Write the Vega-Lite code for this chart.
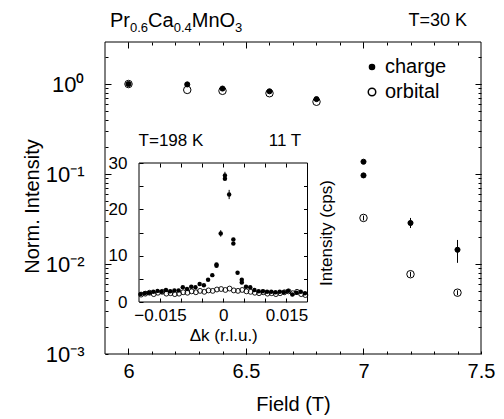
{
  "$schema": "https://vega.github.io/schema/vega-lite/v6.json",
  "width": 376,
  "height": 312,
  "autosize": "none",
  "padding": {"left": 105, "top": 42, "right": 23, "bottom": 65},
  "background": "white",
  "config": {
    "font": "Liberation Sans",
    "view": {"stroke": null},
    "axis": {
      "domain": false,
      "grid": false,
      "tickColor": "black",
      "tickWidth": 1,
      "labelColor": "black",
      "titleColor": "black",
      "titleFontWeight": "normal",
      "labelFlush": false,
      "labelOverlap": false
    },
    "text": {"font": "Liberation Sans", "color": "black"}
  },
  "datasets": {
    "field": [
      {"field": 6.0, "kind": "orbital", "norm": 1.0},
      {"field": 6.0, "kind": "charge", "norm": 1.0},
      {"field": 6.25, "kind": "orbital", "norm": 0.86},
      {"field": 6.25, "kind": "charge", "norm": 0.99},
      {"field": 6.4, "kind": "orbital", "norm": 0.84},
      {"field": 6.4, "kind": "charge", "norm": 0.89},
      {"field": 6.6, "kind": "orbital", "norm": 0.79},
      {"field": 6.6, "kind": "charge", "norm": 0.83},
      {"field": 6.8, "kind": "orbital", "norm": 0.635},
      {"field": 6.8, "kind": "charge", "norm": 0.68},
      {"field": 7.0, "kind": "orbital", "norm": 0.0325, "lo": 0.0305, "hi": 0.0345},
      {"field": 7.0, "kind": "charge", "norm": 0.137},
      {"field": 7.0, "kind": "charge", "norm": 0.0965},
      {"field": 7.2, "kind": "orbital", "norm": 0.0077, "lo": 0.0072, "hi": 0.0082},
      {"field": 7.2, "kind": "charge", "norm": 0.0286, "lo": 0.0251, "hi": 0.0325},
      {"field": 7.4, "kind": "orbital", "norm": 0.0048, "lo": 0.0045, "hi": 0.0051},
      {"field": 7.4, "kind": "charge", "norm": 0.0144, "lo": 0.0103, "hi": 0.0185}
    ],
    "scan": [
      {"dk": -0.0196, "kind": "charge", "cps": 1.7},
      {"dk": -0.0186, "kind": "charge", "cps": 1.9},
      {"dk": -0.0176, "kind": "charge", "cps": 2.0},
      {"dk": -0.0166, "kind": "charge", "cps": 2.2},
      {"dk": -0.0156, "kind": "charge", "cps": 2.4},
      {"dk": -0.0146, "kind": "charge", "cps": 2.2},
      {"dk": -0.0136, "kind": "charge", "cps": 2.6},
      {"dk": -0.0126, "kind": "charge", "cps": 2.3},
      {"dk": -0.0116, "kind": "charge", "cps": 2.5},
      {"dk": -0.0106, "kind": "charge", "cps": 2.5},
      {"dk": -0.0096, "kind": "charge", "cps": 3.2},
      {"dk": -0.0086, "kind": "charge", "cps": 2.8},
      {"dk": -0.0076, "kind": "charge", "cps": 3.3},
      {"dk": -0.0066, "kind": "charge", "cps": 3.2},
      {"dk": -0.0056, "kind": "charge", "cps": 3.9},
      {"dk": -0.0046, "kind": "charge", "cps": 3.6},
      {"dk": -0.0036, "kind": "charge", "cps": 4.8},
      {"dk": -0.0026, "kind": "charge", "cps": 5.8},
      {"dk": -0.0016, "kind": "charge", "cps": 8.1},
      {"dk": -0.0016, "kind": "charge", "cps": 7.8},
      {"dk": -0.0006, "kind": "charge", "cps": 14.8, "lo": 14.1, "hi": 15.5},
      {"dk": 0.0004, "kind": "charge", "cps": 27.3, "lo": 26.3, "hi": 28.1},
      {"dk": 0.0004, "kind": "charge", "cps": 26.6},
      {"dk": 0.0014, "kind": "charge", "cps": 23.2, "lo": 22.2, "hi": 24.2},
      {"dk": 0.0024, "kind": "charge", "cps": 13.5},
      {"dk": 0.0024, "kind": "charge", "cps": 12.6},
      {"dk": 0.0034, "kind": "charge", "cps": 6.3},
      {"dk": 0.0044, "kind": "charge", "cps": 4.8},
      {"dk": 0.0044, "kind": "charge", "cps": 4.2},
      {"dk": 0.0054, "kind": "charge", "cps": 3.3},
      {"dk": 0.0064, "kind": "charge", "cps": 3.2},
      {"dk": 0.0074, "kind": "charge", "cps": 2.6},
      {"dk": 0.0084, "kind": "charge", "cps": 2.3},
      {"dk": 0.0094, "kind": "charge", "cps": 2.3},
      {"dk": 0.0104, "kind": "charge", "cps": 2.2},
      {"dk": 0.0114, "kind": "charge", "cps": 2.2},
      {"dk": 0.0124, "kind": "charge", "cps": 2.1},
      {"dk": 0.0134, "kind": "charge", "cps": 2.2},
      {"dk": 0.0144, "kind": "charge", "cps": 2.1},
      {"dk": 0.0154, "kind": "charge", "cps": 2.4},
      {"dk": 0.0164, "kind": "charge", "cps": 1.6},
      {"dk": 0.0174, "kind": "charge", "cps": 2.0},
      {"dk": 0.0184, "kind": "charge", "cps": 2.2},
      {"dk": 0.0194, "kind": "charge", "cps": 1.9},
      {"dk": -0.0195, "kind": "orbital", "cps": 1.6},
      {"dk": -0.0185, "kind": "orbital", "cps": 1.8},
      {"dk": -0.0175, "kind": "orbital", "cps": 2.0},
      {"dk": -0.0165, "kind": "orbital", "cps": 1.7},
      {"dk": -0.0155, "kind": "orbital", "cps": 2.0},
      {"dk": -0.0145, "kind": "orbital", "cps": 2.2},
      {"dk": -0.0135, "kind": "orbital", "cps": 1.8},
      {"dk": -0.0125, "kind": "orbital", "cps": 1.9},
      {"dk": -0.0115, "kind": "orbital", "cps": 1.7},
      {"dk": -0.0105, "kind": "orbital", "cps": 1.8},
      {"dk": -0.0095, "kind": "orbital", "cps": 2.1},
      {"dk": -0.0085, "kind": "orbital", "cps": 2.0},
      {"dk": -0.0075, "kind": "orbital", "cps": 2.3},
      {"dk": -0.0065, "kind": "orbital", "cps": 2.1},
      {"dk": -0.0055, "kind": "orbital", "cps": 2.4},
      {"dk": -0.0045, "kind": "orbital", "cps": 2.2},
      {"dk": -0.0035, "kind": "orbital", "cps": 2.5},
      {"dk": -0.0025, "kind": "orbital", "cps": 2.4},
      {"dk": -0.0015, "kind": "orbital", "cps": 2.7},
      {"dk": -0.0005, "kind": "orbital", "cps": 2.8},
      {"dk": 0.0005, "kind": "orbital", "cps": 2.6},
      {"dk": 0.0015, "kind": "orbital", "cps": 2.9},
      {"dk": 0.0025, "kind": "orbital", "cps": 2.5},
      {"dk": 0.0035, "kind": "orbital", "cps": 2.4},
      {"dk": 0.0045, "kind": "orbital", "cps": 2.6},
      {"dk": 0.0055, "kind": "orbital", "cps": 2.3},
      {"dk": 0.0065, "kind": "orbital", "cps": 2.2},
      {"dk": 0.0075, "kind": "orbital", "cps": 2.0},
      {"dk": 0.0085, "kind": "orbital", "cps": 1.9},
      {"dk": 0.0095, "kind": "orbital", "cps": 2.1},
      {"dk": 0.0105, "kind": "orbital", "cps": 1.8},
      {"dk": 0.0115, "kind": "orbital", "cps": 1.9},
      {"dk": 0.0125, "kind": "orbital", "cps": 1.7},
      {"dk": 0.0135, "kind": "orbital", "cps": 1.9},
      {"dk": 0.0145, "kind": "orbital", "cps": 2.1},
      {"dk": 0.0155, "kind": "orbital", "cps": 2.3},
      {"dk": 0.0165, "kind": "orbital", "cps": 1.9},
      {"dk": 0.0175, "kind": "orbital", "cps": 2.2},
      {"dk": 0.0185, "kind": "orbital", "cps": 1.7},
      {"dk": 0.0195, "kind": "orbital", "cps": 1.5}
    ]
  },
  "layer": [
    {
      "data": {"values": [{}]},
      "mark": {"type": "rect", "filled": false, "stroke": "black", "strokeWidth": 1},
      "encoding": {
        "x": {"datum": 5.9, "scale": {"domain": [5.9, 7.5], "nice": false, "zero": false}, "axis": null},
        "x2": {"datum": 7.5},
        "y": {"datum": 0.001, "scale": {"type": "log", "domain": [0.001, 2.93], "nice": false}, "axis": null},
        "y2": {"datum": 2.93}
      }
    },
    {
      "data": {"name": "field"},
      "transform": [{"filter": "datum.kind == 'orbital'"}],
      "mark": {"type": "point", "shape": "circle", "filled": true, "stroke": "black", "strokeWidth": 1, "opacity": 1},
      "encoding": {
        "x": {
          "field": "field",
          "type": "quantitative",
          "title": "Field  (T)",
          "scale": {"domain": [5.9, 7.5], "nice": false, "zero": false},
          "axis": {
            "orient": "bottom",
            "offset": -3,
            "tickSize": 3,
            "values": [6, 6.1, 6.2, 6.3, 6.4, 6.5, 6.6, 6.7, 6.8, 6.9, 7, 7.1, 7.2, 7.3, 7.4, 7.5],
            "labelExpr": "abs(datum.value * 2 - round(datum.value * 2)) < 1e-6 ? '' + datum.value : ''",
            "labelFontSize": 20,
            "labelPadding": 7,
            "titleFontSize": 20,
            "titlePadding": 13
          }
        },
        "y": {
          "field": "norm",
          "type": "quantitative",
          "title": "Norm. Intensity",
          "scale": {"type": "log", "domain": [0.001, 2.93], "nice": false},
          "axis": {
            "orient": "left",
            "offset": -3,
            "tickSize": 3,
            "values": [0.001, 0.002, 0.003, 0.004, 0.005, 0.006, 0.007, 0.008, 0.009, 0.01, 0.02, 0.03, 0.04, 0.05, 0.06, 0.07, 0.08, 0.09, 0.1, 0.2, 0.3, 0.4, 0.5, 0.6, 0.7, 0.8, 0.9, 1, 2],
            "labelExpr": "datum.value == 1 ? '10⁰' : datum.value == 0.1 ? '10⁻¹' : datum.value == 0.01 ? '10⁻²' : datum.value == 0.001 ? '10⁻³' : ''",
            "labelFontSize": 22,
            "labelPadding": 21,
            "titleFontSize": 20,
            "titleAngle": 270,
            "titleBaseline": "middle",
            "titleX": -76,
            "titleY": 164
          }
        },
        "fill": {
          "field": "kind", "type": "nominal",
          "scale": {"domain": ["charge", "orbital"], "range": ["black", "white"]},
          "legend": {"orient": "none", "legendX": 257, "legendY": 15, "title": null, "labelFontSize": 20, "rowPadding": 5, "labelOffset": 3,
            "encode": {"symbols": {"update": {"stroke": {"value": "black"}, "strokeWidth": {"value": 1}}}}}
        },
        "size": {
          "field": "kind", "type": "nominal",
          "scale": {"domain": ["charge", "orbital"], "range": [26, 56]},
          "legend": {"orient": "none", "legendX": 257, "legendY": 15, "title": null, "labelFontSize": 20, "rowPadding": 5, "labelOffset": 3,
            "encode": {"symbols": {"update": {"stroke": {"value": "black"}, "strokeWidth": {"value": 1}}}}}
        }
      }
    },
    {
      "data": {"name": "field"},
      "transform": [{"filter": "isValid(datum.lo)"}],
      "mark": {"type": "rule", "color": "black", "strokeWidth": 1},
      "encoding": {
        "x": {"field": "field", "type": "quantitative", "scale": {"domain": [5.9, 7.5], "nice": false, "zero": false}, "axis": null},
        "y": {"field": "lo", "type": "quantitative", "scale": {"type": "log", "domain": [0.001, 2.93], "nice": false}, "axis": null},
        "y2": {"field": "hi"}
      }
    },
    {
      "data": {"name": "field"},
      "transform": [{"filter": "datum.kind == 'charge'"}],
      "mark": {"type": "point", "shape": "circle", "filled": true, "stroke": "black", "strokeWidth": 1, "opacity": 1},
      "encoding": {
        "x": {"field": "field", "type": "quantitative", "scale": {"domain": [5.9, 7.5], "nice": false, "zero": false}, "axis": null},
        "y": {"field": "norm", "type": "quantitative", "scale": {"type": "log", "domain": [0.001, 2.93], "nice": false}, "axis": null},
        "fill": {"field": "kind", "type": "nominal", "scale": {"domain": ["charge", "orbital"], "range": ["black", "white"]}, "legend": null},
        "size": {"field": "kind", "type": "nominal", "scale": {"domain": ["charge", "orbital"], "range": [26, 56]}, "legend": null}
      }
    },
    {
      "data": {"name": "field"},
      "mark": {"type": "point", "opacity": 0},
      "encoding": {
        "x": {
          "field": "field",
          "type": "quantitative",
          "scale": {"domain": [5.9, 7.5], "nice": false, "zero": false},
          "axis": {
            "orient": "top", "offset": -3, "tickSize": 3, "labels": false, "title": null,
            "values": [6, 6.1, 6.2, 6.3, 6.4, 6.5, 6.6, 6.7, 6.8, 6.9, 7, 7.1, 7.2, 7.3, 7.4]
          }
        },
        "y": {
          "field": "norm",
          "type": "quantitative",
          "scale": {"type": "log", "domain": [0.001, 2.93], "nice": false},
          "axis": {
            "orient": "right", "offset": -3, "tickSize": 3, "labels": false, "title": null,
            "values": [0.002, 0.003, 0.004, 0.005, 0.006, 0.007, 0.008, 0.009, 0.01, 0.02, 0.03, 0.04, 0.05, 0.06, 0.07, 0.08, 0.09, 0.1, 0.2, 0.3, 0.4, 0.5, 0.6, 0.7, 0.8, 0.9, 1, 2]
          }
        }
      }
    },
    {
      "data": {"name": "field"},
      "mark": {"type": "point", "opacity": 0},
      "encoding": {
        "x": {
          "field": "field",
          "type": "quantitative",
          "scale": {"domain": [5.9, 7.5], "nice": false, "zero": false},
          "axis": {"orient": "bottom", "offset": -6, "tickSize": 6, "labels": false, "title": null, "values": [6, 6.5, 7]}
        },
        "y": {
          "field": "norm",
          "type": "quantitative",
          "scale": {"type": "log", "domain": [0.001, 2.93], "nice": false},
          "axis": {"orient": "left", "offset": -6, "tickSize": 6, "labels": false, "title": null, "values": [0.01, 0.1, 1]}
        }
      }
    },
    {
      "data": {"name": "field"},
      "mark": {"type": "point", "opacity": 0},
      "encoding": {
        "x": {
          "field": "field",
          "type": "quantitative",
          "scale": {"domain": [5.9, 7.5], "nice": false, "zero": false},
          "axis": {"orient": "top", "offset": -6, "tickSize": 6, "labels": false, "title": null, "values": [6, 6.5, 7]}
        },
        "y": {
          "field": "norm",
          "type": "quantitative",
          "scale": {"type": "log", "domain": [0.001, 2.93], "nice": false},
          "axis": {"orient": "right", "offset": -6, "tickSize": 6, "labels": false, "title": null, "values": [0.01, 0.1, 1]}
        }
      }
    },
    {
      "data": {"values": [{}]},
      "mark": {"type": "text", "align": "left", "baseline": "alphabetic", "fontSize": 20},
      "encoding": {
        "x": {"datum": 5.92128, "scale": {"domain": [5.9, 7.5], "nice": false, "zero": false}, "axis": null},
        "y": {"datum": 4.33, "scale": {"type": "log", "domain": [0.001, 2.93], "nice": false}, "axis": null},
        "text": {"value": "Pr"}
      }
    },
    {
      "data": {"values": [{}]},
      "mark": {"type": "text", "align": "left", "baseline": "alphabetic", "fontSize": 13},
      "encoding": {
        "x": {"datum": 6.00638, "scale": {"domain": [5.9, 7.5], "nice": false, "zero": false}, "axis": null},
        "y": {"datum": 3.81, "scale": {"type": "log", "domain": [0.001, 2.93], "nice": false}, "axis": null},
        "text": {"value": "0.6"}
      }
    },
    {
      "data": {"values": [{}]},
      "mark": {"type": "text", "align": "left", "baseline": "alphabetic", "fontSize": 20},
      "encoding": {
        "x": {"datum": 6.0834, "scale": {"domain": [5.9, 7.5], "nice": false, "zero": false}, "axis": null},
        "y": {"datum": 4.33, "scale": {"type": "log", "domain": [0.001, 2.93], "nice": false}, "axis": null},
        "text": {"value": "Ca"}
      }
    },
    {
      "data": {"values": [{}]},
      "mark": {"type": "text", "align": "left", "baseline": "alphabetic", "fontSize": 13},
      "encoding": {
        "x": {"datum": 6.19234, "scale": {"domain": [5.9, 7.5], "nice": false, "zero": false}, "axis": null},
        "y": {"datum": 3.81, "scale": {"type": "log", "domain": [0.001, 2.93], "nice": false}, "axis": null},
        "text": {"value": "0.4"}
      }
    },
    {
      "data": {"values": [{}]},
      "mark": {"type": "text", "align": "left", "baseline": "alphabetic", "fontSize": 20},
      "encoding": {
        "x": {"datum": 6.26936, "scale": {"domain": [5.9, 7.5], "nice": false, "zero": false}, "axis": null},
        "y": {"datum": 4.33, "scale": {"type": "log", "domain": [0.001, 2.93], "nice": false}, "axis": null},
        "text": {"value": "MnO"}
      }
    },
    {
      "data": {"values": [{}]},
      "mark": {"type": "text", "align": "left", "baseline": "alphabetic", "fontSize": 13},
      "encoding": {
        "x": {"datum": 6.45362, "scale": {"domain": [5.9, 7.5], "nice": false, "zero": false}, "axis": null},
        "y": {"datum": 3.81, "scale": {"type": "log", "domain": [0.001, 2.93], "nice": false}, "axis": null},
        "text": {"value": "3"}
      }
    },
    {
      "data": {"values": [{}]},
      "mark": {"type": "text", "align": "right", "baseline": "alphabetic", "fontSize": 18},
      "encoding": {
        "x": {"datum": 7.4404, "scale": {"domain": [5.9, 7.5], "nice": false, "zero": false}, "axis": null},
        "y": {"datum": 4.44, "scale": {"type": "log", "domain": [0.001, 2.93], "nice": false}, "axis": null},
        "text": {"value": "T=30 K"}
      }
    },
    {
      "data": {"values": [{}]},
      "mark": {"type": "rect", "filled": false, "stroke": "black", "strokeWidth": 1},
      "encoding": {
        "x": {"datum": -0.02, "scale": {"domain": [-0.02, 0.02], "range": [34, 202.5], "nice": false, "zero": false}, "axis": null},
        "x2": {"datum": 0.02},
        "y": {"datum": 0, "scale": {"domain": [0, 30], "range": [260, 121], "nice": false, "zero": false}, "axis": null},
        "y2": {"datum": 30}
      }
    },
    {
      "data": {"name": "scan"},
      "transform": [{"filter": "datum.kind == 'orbital'"}],
      "mark": {"type": "point", "shape": "circle", "filled": false, "color": "black", "strokeWidth": 0.9, "size": 24, "opacity": 1},
      "encoding": {
        "x": {
          "field": "dk",
          "type": "quantitative",
          "title": "Δk  (r.l.u.)",
          "scale": {"domain": [-0.02, 0.02], "range": [34, 202.5], "nice": false, "zero": false},
          "axis": {
            "orient": "bottom",
            "offset": -56,
            "values": [-0.015, -0.01, -0.005, 0, 0.005, 0.01, 0.015],
            "labelExpr": "abs(datum.value) < 1e-9 ? '0' : datum.value < -0.0149 ? '−0.015' : datum.value > 0.0149 ? '0.015' : ''",
            "tickSize": 4,
            "labelFontSize": 17,
            "labelPadding": 5,
            "titleFontSize": 17,
            "titleBaseline": "alphabetic",
            "titleY": 42
          }
        },
        "y": {
          "field": "cps",
          "type": "quantitative",
          "title": null,
          "scale": {"domain": [0, 30], "range": [260, 121], "nice": false, "zero": false},
          "axis": {
            "orient": "left",
            "offset": -38,
            "values": [0, 5, 10, 15, 20, 25, 30],
            "labelExpr": "datum.value % 10 == 0 ? '' + datum.value : ''",
            "tickSize": 4,
            "labelFontSize": 17,
            "labelPadding": 12
          }
        }
      }
    },
    {
      "data": {"name": "scan"},
      "transform": [{"filter": "isValid(datum.lo)"}],
      "mark": {"type": "rule", "color": "black", "strokeWidth": 1},
      "encoding": {
        "x": {"field": "dk", "type": "quantitative", "scale": {"domain": [-0.02, 0.02], "range": [34, 202.5], "nice": false, "zero": false}, "axis": null},
        "y": {"field": "lo", "type": "quantitative", "scale": {"domain": [0, 30], "range": [260, 121], "nice": false, "zero": false}, "axis": null},
        "y2": {"field": "hi"}
      }
    },
    {
      "data": {"name": "scan"},
      "transform": [{"filter": "datum.kind == 'charge'"}],
      "mark": {"type": "point", "shape": "circle", "filled": true, "color": "black", "size": 20, "opacity": 1},
      "encoding": {
        "x": {"field": "dk", "type": "quantitative", "scale": {"domain": [-0.02, 0.02], "range": [34, 202.5], "nice": false, "zero": false}, "axis": null},
        "y": {"field": "cps", "type": "quantitative", "scale": {"domain": [0, 30], "range": [260, 121], "nice": false, "zero": false}, "axis": null}
      }
    },
    {
      "data": {"name": "scan"},
      "mark": {"type": "point", "opacity": 0},
      "encoding": {
        "x": {
          "field": "dk",
          "type": "quantitative",
          "scale": {"domain": [-0.02, 0.02], "range": [34, 202.5], "nice": false, "zero": false},
          "axis": {
            "orient": "top", "offset": -125, "labels": false, "title": null,
            "values": [-0.015, -0.01, -0.005, 0, 0.005, 0.01, 0.015],
            "tickSize": 4
          }
        },
        "y": {
          "field": "cps",
          "type": "quantitative",
          "title": "Intensity  (cps)",
          "scale": {"domain": [0, 30], "range": [260, 121], "nice": false, "zero": false},
          "axis": {
            "orient": "right", "offset": -177.5, "labels": false,
            "values": [5, 10, 15, 20, 25],
            "tickSize": 4,
            "titleFontSize": 17,
            "titleAngle": 270,
            "titleBaseline": "middle",
            "titleX": 22.5
          }
        }
      }
    },
    {
      "data": {"values": [{}]},
      "mark": {"type": "text", "align": "left", "baseline": "alphabetic", "fontSize": 17},
      "encoding": {
        "x": {"datum": -0.0201, "scale": {"domain": [-0.02, 0.02], "range": [34, 202.5], "nice": false, "zero": false}, "axis": null},
        "y": {"datum": 33.6, "scale": {"domain": [0, 30], "range": [260, 121], "nice": false, "zero": false}, "axis": null},
        "text": {"value": "T=198 K"}
      }
    },
    {
      "data": {"values": [{}]},
      "mark": {"type": "text", "align": "right", "baseline": "alphabetic", "fontSize": 17},
      "encoding": {
        "x": {"datum": 0.0185, "scale": {"domain": [-0.02, 0.02], "range": [34, 202.5], "nice": false, "zero": false}, "axis": null},
        "y": {"datum": 33.6, "scale": {"domain": [0, 30], "range": [260, 121], "nice": false, "zero": false}, "axis": null},
        "text": {"value": "11 T"}
      }
    }
  ],
  "resolve": {
    "scale": {"x": "independent", "y": "independent", "fill": "independent", "size": "independent"},
    "axis": {"x": "independent", "y": "independent"},
    "legend": {"fill": "independent", "size": "independent"}
  }
}
